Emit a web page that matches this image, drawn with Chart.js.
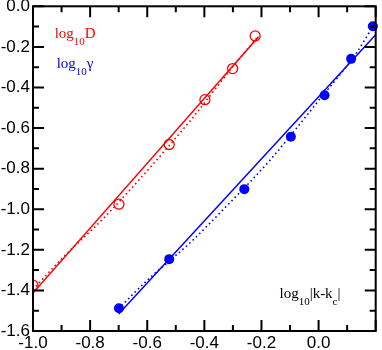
<!DOCTYPE html>
<html>
<head>
<meta charset="utf-8">
<script src="https://cdn.jsdelivr.net/npm/chart.js@4"></script>
<style>
    html, body { margin: 0; padding: 0; background: #fff; }
    #wrap { width: 382px; height: 350px; }
</style>
</head>
<body>
<div id="wrap"><canvas id="chart"></canvas></div>
<script>
    // measured points, log10|k-kc| on x
    const dX = [-1.0, -0.699, -0.523, -0.398, -0.301, -0.222];
    const dY = [-1.374, -0.975, -0.681, -0.460, -0.307, -0.146];
    const gX = [-0.699, -0.523, -0.260, -0.097, 0.021, 0.114, 0.190];
    const gY = [-1.488, -1.246, -0.901, -0.643, -0.438, -0.259, -0.098];

    // solid fit lines (end points)
    const dFitX = [-1.0, -0.21];
    const dFitY = [-1.413, -0.150];
    const gFitX = [-0.70, 0.20];
    const gFitY = [-1.516, -0.140];

    // dotted curves
    const dDotX = [-0.99, -0.90, -0.75, -0.60, -0.45, -0.30, -0.21];
    const dDotY = [-1.380, -1.245, -1.040, -0.810, -0.565, -0.297, -0.145];
    const gDotX = [-0.69, -0.60, -0.45, -0.33, -0.17, 0.0, 0.13, 0.19];
    const gDotY = [-1.475, -1.350, -1.165, -0.996, -0.758, -0.465, -0.235, -0.100];

    // axes
    const xLabelValues = [-1.0, -0.8, -0.6, -0.4, -0.2, 0.0];
    const xTickLabels = ['-1.0', '-0.8', '-0.6', '-0.4', '-0.2', '0.0'];
    const yLabelValues = [0.0, -0.2, -0.4, -0.6, -0.8, -1.0, -1.2, -1.4, -1.6];
    const yTickLabels = ['0.0', '-0.2', '-0.4', '-0.6', '-0.8', '-1.0', '-1.2', '-1.4', '-1.6'];
    const xMajor = [-1.0, -0.8, -0.6, -0.4, -0.2, 0.0, 0.2];
    const xMinor = [-0.9, -0.7, -0.5, -0.3, -0.1, 0.1];
    const yMajor = [0.0, -0.2, -0.4, -0.6, -0.8, -1.0, -1.2, -1.4, -1.6];
    const yMinor = [-0.1, -0.3, -0.5, -0.7, -0.9, -1.1, -1.3, -1.5];

    const RED = '#ff0000';
    const BLUE = '#0000ff';

    const pts = (xs, ys) => xs.map((x, i) => ({ x: x, y: ys[i] }));

    // inside ticks on all four sides + frame
    const frameTicks = {
        id: 'frameTicks',
        afterDatasetsDraw(chart) {
            const { ctx, chartArea: a, scales: { x, y } } = chart;
            ctx.save();
            ctx.strokeStyle = '#000';
            ctx.lineWidth = 2;
            ctx.beginPath();
            const tick = (vals, len) => {
                vals.forEach(v => {
                    const px = x.getPixelForValue(v);
                    ctx.moveTo(px, a.bottom); ctx.lineTo(px, a.bottom - len);
                    ctx.moveTo(px, a.top); ctx.lineTo(px, a.top + len);
                });
            };
            const tickY = (vals, len) => {
                vals.forEach(v => {
                    const py = y.getPixelForValue(v);
                    ctx.moveTo(a.left, py); ctx.lineTo(a.left + len, py);
                    ctx.moveTo(a.right, py); ctx.lineTo(a.right - len, py);
                });
            };
            tick(xMajor, 11); tick(xMinor, 6);
            tickY(yMajor, 11); tickY(yMinor, 6);
            ctx.stroke();
            ctx.strokeRect(a.left, a.top, a.right - a.left, a.bottom - a.top);
            ctx.restore();
        }
    };

    // text with subscripts
    function drawParts(ctx, x0, y0, parts, color) {
        let x = x0;
        ctx.fillStyle = color;
        ctx.textBaseline = 'alphabetic';
        ctx.textAlign = 'left';
        parts.forEach(([txt, sub]) => {
            ctx.font = sub ? '11px "Liberation Serif"' : '15px "Liberation Serif"';
            ctx.fillText(txt, x, sub ? y0 + 7 : y0);
            x += ctx.measureText(txt).width;
        });
    }

    const labels = {
        id: 'labels',
        afterDraw(chart) {
            const { ctx, scales: { x, y } } = chart;
            ctx.save();
            drawParts(ctx, x.getPixelForValue(-0.924), y.getPixelForValue(-0.158),
                [['log', false], ['10', true], ['D', false]], RED);
            drawParts(ctx, x.getPixelForValue(-0.917), y.getPixelForValue(-0.305),
                [['log', false], ['10', true], ['\u03b3', false]], BLUE);
            drawParts(ctx, x.getPixelForValue(-0.137), y.getPixelForValue(-1.436),
                [['log', false], ['10', true], ['|k-k', false], ['c', true], ['|', false]], '#000');
            ctx.restore();
        }
    };

    new Chart(document.getElementById('chart'), {
        type: 'scatter',
        data: {
            datasets: [
                { data: pts(dFitX, dFitY), showLine: true, borderColor: RED, borderWidth: 1.5, pointRadius: 0 },
                { data: pts(dDotX, dDotY), showLine: true, borderColor: RED, borderWidth: 1.6, borderDash: [1.6, 3],
                  cubicInterpolationMode: 'monotone', pointRadius: 0 },
                { data: pts(dX, dY), showLine: false, pointRadius: 5, pointBorderWidth: 1.3,
                  borderColor: RED, backgroundColor: 'rgba(0,0,0,0)' },
                { data: pts(gFitX, gFitY), showLine: true, borderColor: BLUE, borderWidth: 1.5, pointRadius: 0 },
                { data: pts(gDotX, gDotY), showLine: true, borderColor: BLUE, borderWidth: 1.6, borderDash: [1.6, 3],
                  cubicInterpolationMode: 'monotone', pointRadius: 0 },
                { data: pts(gX, gY), showLine: false, pointRadius: 5, pointBorderWidth: 0,
                  borderColor: BLUE, backgroundColor: BLUE, clip: false }
            ]
        },
        options: {
            responsive: true,
            maintainAspectRatio: false,
            animation: false,
            devicePixelRatio: 1,
            layout: { padding: { top: 0, right: 2, bottom: 0, left: 0 } },
            plugins: { legend: { display: false }, tooltip: { enabled: false } },
            scales: {
                x: {
                    type: 'linear', min: -1.0, max: 0.2,
                    grid: { display: false, drawTicks: false },
                    border: { display: false },
                    afterBuildTicks: s => { s.ticks = xLabelValues.map(v => ({ value: v })); },
                    ticks: {
                        autoSkip: false, maxRotation: 0, padding: 2, color: '#000',
                        font: { family: 'Liberation Sans', size: 17 },
                        callback: (v, i) => xTickLabels[i]
                    },
                    afterFit: s => { s.height = 19; s.paddingLeft = 0; s.paddingRight = 0; }
                },
                y: {
                    type: 'linear', min: -1.6, max: 0.0,
                    grid: { display: false, drawTicks: false },
                    border: { display: false },
                    afterBuildTicks: s => { s.ticks = yLabelValues.map(v => ({ value: v })); },
                    ticks: {
                        autoSkip: false, padding: 3, color: '#000',
                        font: { family: 'Liberation Sans', size: 17 },
                        callback: (v, i) => yTickLabels[i]
                    },
                    afterFit: s => { s.width = 33; s.paddingTop = 6; s.paddingBottom = 0; }
                }
            }
        },
        plugins: [frameTicks, labels]
    });
</script>
</body>
</html>
